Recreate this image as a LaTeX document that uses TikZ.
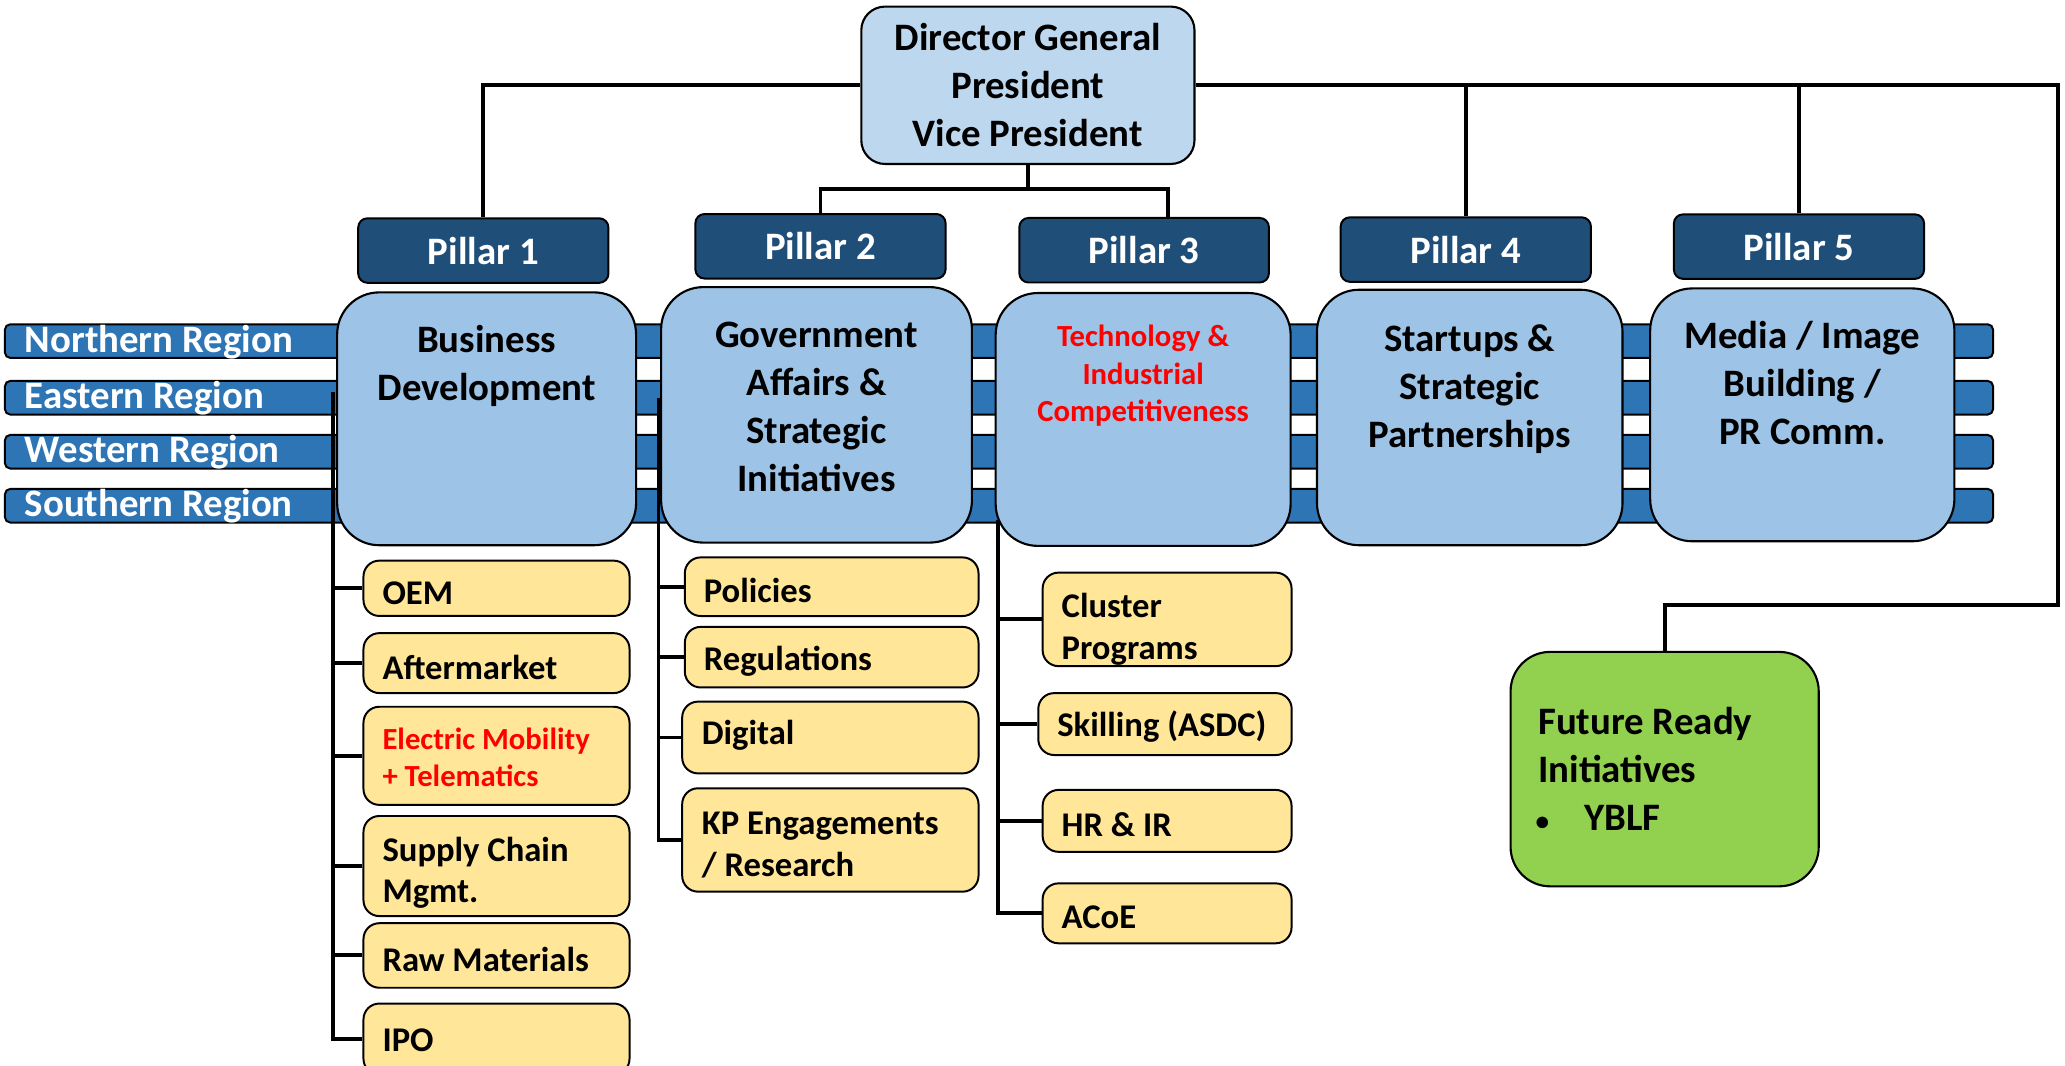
\documentclass[tikz,border=0pt]{standalone}
\usepackage{fontspec}
\setmainfont{Carlito}
\usetikzlibrary{backgrounds}
\definecolor{dgC}{HTML}{BDD7EE}
\definecolor{mainC}{HTML}{9DC3E6}
\definecolor{pilC}{HTML}{1F4E79}
\definecolor{barC}{HTML}{2E75B6}
\definecolor{yelC}{HTML}{FFE699}
\definecolor{grnC}{HTML}{92D050}
\definecolor{redC}{HTML}{FF0000}
\begin{document}
\begin{tikzpicture}[x=1pt,y=-1pt,
  bigtxt/.style={font=\fontsize{29.5}{36.5}\selectfont\bfseries},
  ytxt/.style={font=\fontsize{26.3}{31.6}\selectfont\bfseries},
  rtxt/.style={font=\fontsize{23.3}{28.5}\selectfont\bfseries, text=redC},
  regbar/.style={draw=black, line width=1.5pt, fill=barC, rounded corners=4pt,
    minimum width=1509.6pt, minimum height=25.5pt, inner sep=0pt, anchor=north west},
  regtxt/.style={bigtxt, text=white, inner sep=0pt, anchor=base west},
  pilbox/.style={draw=black, line width=1.5pt, fill=pilC, rounded corners=7pt,
    minimum width=190pt, minimum height=49pt, inner sep=0pt, text=white, bigtxt},
  mainbox/.style={draw=black, line width=1.6pt, fill=mainC, rounded corners=32pt, inner sep=0pt},
  ybox/.style={draw=black, line width=1.5pt, fill=yelC, rounded corners=12pt, inner sep=0pt},
  ylab/.style={anchor=west, inner sep=0pt, align=flush left, ytxt},
  conn/.style={draw=black, line width=3pt}
]
\useasboundingbox (0,0) rectangle (1568,809);

% ---------- boxes (main layer) ----------
\node[draw=black, line width=1.6pt, fill=dgC, rounded corners=18pt, minimum width=253pt,
  minimum height=119.5pt, inner sep=0pt, align=center, bigtxt] (dg) at (780.5,64.75)
  {Director General\\President\\Vice President};

\node[pilbox] (p1) at (367,190.25) {Pillar 1};
\node[pilbox] (p2) at (623,187) {Pillar 2};
\node[pilbox, minimum width=189.5pt] (p3) at (868.75,190) {Pillar 3};
\node[pilbox] (p4) at (1113,189.5) {Pillar 4};
\node[pilbox] (p5) at (1366,187.25) {Pillar 5};

\node[mainbox, minimum width=227pt, minimum height=192pt] (bd) at (369.5,318) {};
\node[bigtxt, align=center] (bdt) at (369.5,278) {Business\\Development};
\node[mainbox, minimum width=236pt, minimum height=194pt] (ga) at (620,315) {};
\node[bigtxt, align=center] (gat) at (620,309) {Government\\Affairs \&\\Strategic\\Initiatives};
\node[mainbox, minimum width=224pt, minimum height=192pt] (ti) at (868,318.5) {};
\node[rtxt, align=center] (tit) at (868,285.5) {Technology \&\\Industrial\\Competitiveness};
\node[mainbox, minimum width=232pt, minimum height=194pt] (sp) at (1116,317) {};
\node[bigtxt, align=center] (spt) at (1116,295.5) {Startups \&\\Strategic\\Partnerships};
\node[mainbox, minimum width=231pt, minimum height=192pt] (mi) at (1368.5,315) {};
\node[bigtxt, align=center] (mit) at (1368.5,290.5) {Media / Image\\Building /\\PR Comm.};

% column 1
\node[ybox, minimum width=202pt, minimum height=42pt] (oem) at (377,446.7) {};
\node[ybox, minimum width=202pt, minimum height=45.5pt] (aft) at (377,503.5) {};
\node[ybox, minimum width=202pt, minimum height=74.5pt] (em) at (377,573.9) {};
\node[ybox, minimum width=202pt, minimum height=76pt] (scm) at (377,657.6) {};
\node[ybox, minimum width=202pt, minimum height=49pt] (raw) at (377,725.5) {};
\node[ybox, minimum width=202pt, minimum height=54pt] (ipo) at (377,789) {};
\node[ylab] (oemt) at ([xshift=15pt,yshift=-4pt]oem.west) {OEM};
\node[ylab] (aftt) at ([xshift=15pt,yshift=-3pt]aft.west) {Aftermarket};
\node[ylab, rtxt] (emt) at ([xshift=15pt,yshift=-1pt]em.west) {Electric Mobility\\+ Telematics};
\node[ylab] (scmt) at ([xshift=15pt,yshift=-5pt]scm.west) {Supply Chain\\Mgmt.};
\node[ylab] (rawt) at ([xshift=15pt,yshift=-3pt]raw.west) {Raw Materials};
\node[ylab] (ipot) at ([xshift=15pt,yshift=-1pt]ipo.west) {IPO};
% column 2
\node[ybox, minimum width=223pt, minimum height=44.5pt] (pol) at (631.5,445.5) {};
\node[ybox, minimum width=223pt, minimum height=46pt] (reg) at (631.5,499) {};
\node[ybox, minimum width=225pt, minimum height=54.5pt] (dig) at (630.5,560) {};
\node[ybox, minimum width=225pt, minimum height=78.5pt] (kp) at (630.5,637.8) {};
\node[ylab] (polt) at ([xshift=15pt,yshift=-3pt]pol.west) {Policies};
\node[ylab] (regt) at ([xshift=15pt,yshift=-3pt]reg.west) {Regulations};
\node[ylab] (digt) at ([xshift=15.5pt,yshift=1.5pt]dig.west) {Digital};
\node[ylab] (kpt) at ([xshift=15.5pt,yshift=-4pt]kp.west) {KP Engagements\\/ Research};
% column 3
\node[ybox, minimum width=189pt, minimum height=71pt] (cp) at (886.2,470.3) {};
\node[ybox, minimum width=192.4pt, minimum height=47pt] (sk) at (884.6,549.8) {};
\node[ybox, minimum width=189pt, minimum height=47pt] (hr) at (886.2,623.3) {};
\node[ybox, minimum width=189pt, minimum height=45.5pt] (ac) at (886.2,693.5) {};
\node[ylab] (cpt) at ([xshift=15pt,yshift=-7.5pt]cp.west) {Cluster\\Programs};
\node[ylab] (skt) at ([xshift=15pt,yshift=-2pt]sk.west) {Skilling (ASDC)};
\node[ylab] (hrt) at ([xshift=15pt,yshift=-3pt]hr.west) {HR \& IR};
\node[ylab] (act) at ([xshift=15pt,yshift=-3pt]ac.west) {ACoE};

% future ready
\node[draw=black, line width=1.6pt, fill=grnC, rounded corners=30pt, minimum width=234pt,
  minimum height=178pt, inner xsep=21pt, inner ysep=0pt, text width=192pt, align=flush left, bigtxt]
  (fr) at (1264,584) {Future Ready\\Initiatives\\\makebox[35pt][l]{\hspace*{-2pt}\scalebox{0.7}{\textbullet}}YBLF};

% ---------- background: bars, region labels, column lines ----------
\begin{scope}[on background layer]
  \node[regbar] (nr) at (3,245.5) {};
  \node[regbar] (er) at (3,288.5) {};
  \node[regbar] (wr) at (3,329.5) {};
  \node[regbar] (sr) at (3,370.5) {};
  \node[regtxt] (nrt) at (18.6,268) {Northern Region};
  \node[regtxt] (ert) at (18.6,310.5) {Eastern Region};
  \node[regtxt] (wrt) at (18.6,351.5) {Western Region};
  \node[regtxt] (srt) at (18.6,392.5) {Southern Region};

  \coordinate (c1) at (253,298);
  \coordinate (c2) at (500,302);
  \coordinate (c3) at (757.5,395);
  \draw[conn] (c1) |- (ipo.west);
  \foreach \b in {oem,aft,em,scm,raw} \draw[conn] (\b.west) -- (\b.west -| c1);
  \draw[conn] (c2) |- (kp.west);
  \foreach \b in {pol,reg,dig} \draw[conn] (\b.west) -- (\b.west -| c2);
  \draw[conn] (c3) |- (ac.west);
  \foreach \b in {cp,sk,hr} \draw[conn] (\b.west) -- (\b.west -| c3);
\end{scope}

% ---------- top connectors ----------
\coordinate (rt) at (1563,64.75);
\coordinate (rb) at (1563,459.4);
\coordinate (jn) at (780.5,143.5);
\coordinate (t3) at (887,0);
\draw[conn] (dg.west) -| (p1.north);
\draw[conn] (dg.east) -- (rt) -- (rb) -| (fr.north);
\draw[conn] (p4.north) -- (p4.north |- dg.east);
\draw[conn] (p5.north) -- (p5.north |- dg.east);
\draw[conn] (dg.south) -- (jn);
\draw[conn] (p2.north) |- (jn) -| (p3.north -| t3);
\end{tikzpicture}
\end{document}
